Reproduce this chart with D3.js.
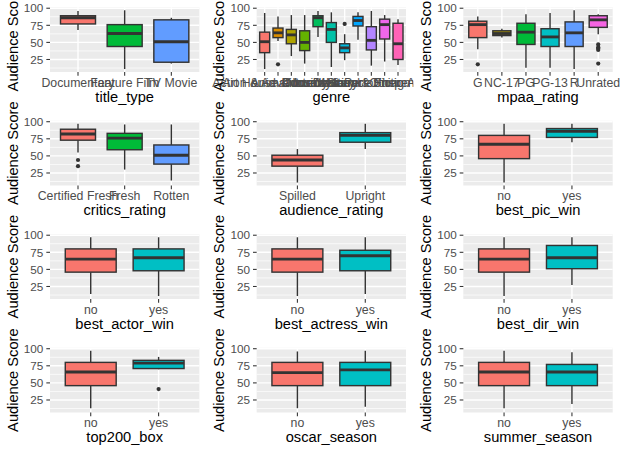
<!DOCTYPE html>
<html><head><meta charset="utf-8">
<script src="https://cdn.jsdelivr.net/npm/d3@7"></script>
<style>body{margin:0;background:#fff}svg{display:block}</style>
</head><body><svg id="c" width="620" height="454"></svg>
<script>
// Each stat row: [lowerWhisker, Q1, median, Q3, upperWhisker]
const titleTypeCats = ["Documentary", "Feature Film", "TV Movie"];
const titleTypeStats = [[68, 77, 86, 89, 96], [11, 44, 63, 76, 97], [19, 21, 51, 83, 86]];
const titleTypeOut = [[], [], []];

const genreCats = ["Action & Adventure", "Animation", "Art House & International", "Comedy", "Documentary", "Drama", "Horror", "Musical & Performing Arts", "Mystery & Suspense", "Other", "Science Fiction & Fantasy"];
const genreStats = [[11, 35, 51, 65, 93], [52, 57, 64, 71, 88], [30, 48, 61, 69, 90], [19, 38, 50, 67, 90], [58, 73, 86, 89, 96], [14, 50, 69, 79, 94], [24, 35, 42, 48, 62], [54, 74, 82, 88, 94], [16, 39, 53, 73, 96], [22, 55, 76, 84, 90], [17, 25, 48, 78, 84]];
const genreOut = [[], [18], [], [], [], [], [77], [], [], [], []];

const mpaaCats = ["G", "NC-17", "PG", "PG-13", "R", "Unrated"];
const mpaaStats = [[40, 57, 76, 81, 88], [57, 60, 63, 67, 70], [13, 47, 65, 78, 91], [13, 44, 58, 70, 93], [11, 44, 64, 80, 97], [62, 72, 83, 89, 91]];
const mpaaOut = [[18], [], [], [], [], [47, 43, 41, 39, 19]];

const criticsCats = ["Certified Fresh", "Fresh", "Rotten"];
const criticsStats = [[55, 73, 82, 89, 97], [30, 59, 76, 83, 96], [14, 38, 51, 66, 96]];
const criticsOut = [[44, 35], [], []];

const audienceCats = ["Spilled", "Upright"];
const audienceStats = [[11, 35, 44, 51, 60], [60, 70, 80, 84, 97]];
const audienceOut = [[], []];

const yesNoCats = ["no", "yes"];
const bestPicStats = [[11, 46, 67, 80, 97], [70, 77, 86, 90, 97]];
const bestActorStats = [[14, 46, 65, 80, 97], [11, 48, 67, 80, 97]];
const bestActressStats = [[11, 46, 65, 80, 97], [14, 48, 70, 78, 97]];
const bestDirStats = [[11, 46, 65, 80, 97], [27, 51, 67, 85, 97]];
const top200Stats = [[13, 46, 66, 80, 97], [70, 71, 79, 83, 88]];
const top200Out = [[], [41]];
const oscarStats = [[13, 46, 65, 80, 96], [15, 46, 69, 80, 97]];
const summerStats = [[13, 46, 66, 80, 97], [19, 46, 66, 77, 95]];
const noOut = [[], []];

const pal2 = ["#F8766D", "#00BFC4"];
const pal3 = ["#F8766D", "#00BA38", "#619CFF"];
const pal6 = ["#F8766D", "#B79F00", "#00BA38", "#00BFC4", "#619CFF", "#F564E3"];
const pal11 = ["#F8766D", "#DB8E00", "#AEA200", "#64B200", "#00BD5C", "#00C1A7", "#00BADE", "#00A6FF", "#B385FF", "#EF67EB", "#FF63B6"];

const yTicks = [25, 50, 75, 100];
const yMinor = [12.5, 37.5, 62.5, 87.5];
const yTitle = "Audience Score";

const panels = [
  {title: "title_type", cats: titleTypeCats, stats: titleTypeStats, out: titleTypeOut, pal: pal3},
  {title: "genre", cats: genreCats, stats: genreStats, out: genreOut, pal: pal11},
  {title: "mpaa_rating", cats: mpaaCats, stats: mpaaStats, out: mpaaOut, pal: pal6},
  {title: "critics_rating", cats: criticsCats, stats: criticsStats, out: criticsOut, pal: pal3},
  {title: "audience_rating", cats: audienceCats, stats: audienceStats, out: audienceOut, pal: pal2},
  {title: "best_pic_win", cats: yesNoCats, stats: bestPicStats, out: noOut, pal: pal2},
  {title: "best_actor_win", cats: yesNoCats, stats: bestActorStats, out: noOut, pal: pal2},
  {title: "best_actress_win", cats: yesNoCats, stats: bestActressStats, out: noOut, pal: pal2},
  {title: "best_dir_win", cats: yesNoCats, stats: bestDirStats, out: noOut, pal: pal2},
  {title: "top200_box", cats: yesNoCats, stats: top200Stats, out: top200Out, pal: pal2},
  {title: "oscar_season", cats: yesNoCats, stats: oscarStats, out: noOut, pal: pal2},
  {title: "summer_season", cats: yesNoCats, stats: summerStats, out: noOut, pal: pal2}
];

const W = 620, H = 454, cw = W / 3, ch = H / 4;
const font = "'Liberation Sans', Arial, sans-serif";
const tickSize = 12.3;
const svg = d3.select("#c");

panels.forEach((p, i) => {
  const col = i % 3, row = Math.floor(i / 3);
  const g = svg.append("g").attr("transform", `translate(${col * cw},${row * ch})`);
  g.append("rect").attr("width", cw).attr("height", ch).attr("fill", "#fff");
  const left = 50, right = cw - 7.33, top = 7.33, bottom = ch - 41.5;
  const y = d3.scaleLinear().domain([6.7, 101.3]).range([bottom, top]);
  const x = d3.scalePoint().domain(p.cats).range([left, right]).padding(0.6);
  const bw = x.step() * 0.75;

  g.append("rect").attr("x", left).attr("y", top).attr("width", right - left).attr("height", bottom - top).attr("fill", "#EBEBEB");
  g.selectAll(".mn").data(yMinor).join("line")
    .attr("x1", left).attr("x2", right).attr("y1", d => y(d)).attr("y2", d => y(d))
    .attr("stroke", "#fff").attr("stroke-width", 0.71);
  g.selectAll(".mj").data(yTicks).join("line")
    .attr("x1", left).attr("x2", right).attr("y1", d => y(d)).attr("y2", d => y(d))
    .attr("stroke", "#fff").attr("stroke-width", 1.42);
  g.selectAll(".vx").data(p.cats).join("line")
    .attr("x1", d => x(d)).attr("x2", d => x(d)).attr("y1", top).attr("y2", bottom)
    .attr("stroke", "#fff").attr("stroke-width", 1.42);

  // boxes
  p.cats.forEach((c, k) => {
    const s = p.stats[k], cx = x(c);
    const bg = g.append("g");
    bg.append("line").attr("x1", cx).attr("x2", cx).attr("y1", y(s[0])).attr("y2", y(s[1]))
      .attr("stroke", "#333333").attr("stroke-width", 1.42);
    bg.append("line").attr("x1", cx).attr("x2", cx).attr("y1", y(s[3])).attr("y2", y(s[4]))
      .attr("stroke", "#333333").attr("stroke-width", 1.42);
    bg.append("rect").attr("x", cx - bw / 2).attr("y", y(s[3])).attr("width", bw)
      .attr("height", y(s[1]) - y(s[3])).attr("fill", p.pal[k])
      .attr("stroke", "#333333").attr("stroke-width", 1.42);
    bg.append("line").attr("x1", cx - bw / 2).attr("x2", cx + bw / 2).attr("y1", y(s[2])).attr("y2", y(s[2]))
      .attr("stroke", "#333333").attr("stroke-width", 2.84);
    bg.selectAll("circle").data(p.out[k]).join("circle")
      .attr("cx", cx).attr("cy", d => y(d)).attr("r", 2.1).attr("fill", "#333333");
  });

  // y axis
  const ya = g.append("g");
  ya.selectAll("line").data(yTicks).join("line")
    .attr("x1", left - 3.67).attr("x2", left).attr("y1", d => y(d)).attr("y2", d => y(d))
    .attr("stroke", "#333333").attr("stroke-width", 1.07);
  ya.selectAll("text").data(yTicks).join("text")
    .attr("x", left - 6.6).attr("y", d => y(d)).attr("dy", "0.36em")
    .attr("text-anchor", "end").attr("font-family", font).attr("font-size", 11.73)
    .attr("fill", "#4D4D4D").text(d => d);
  // x axis
  const xa = g.append("g");
  xa.selectAll("line").data(p.cats).join("line")
    .attr("x1", d => x(d)).attr("x2", d => x(d)).attr("y1", bottom).attr("y2", bottom + 3.67)
    .attr("stroke", "#333333").attr("stroke-width", 1.07);
  xa.selectAll("text").data(p.cats).join("text")
    .attr("x", d => x(d)).attr("y", bottom + 14.9)
    .attr("text-anchor", "middle").attr("font-family", font).attr("font-size", tickSize)
    .attr("fill", "#4D4D4D").text(d => d);

  g.append("text").attr("x", (left + right) / 2).attr("y", bottom + 29.8)
    .attr("text-anchor", "middle").attr("font-family", font).attr("font-size", 14.67)
    .attr("fill", "#000").text(p.title);
  g.append("text").attr("transform", `translate(17.5,${(top + bottom) / 2}) rotate(-90)`)
    .attr("text-anchor", "middle").attr("font-family", font).attr("font-size", 14.67)
    .attr("fill", "#000").text(yTitle);
});
</script></body></html>
